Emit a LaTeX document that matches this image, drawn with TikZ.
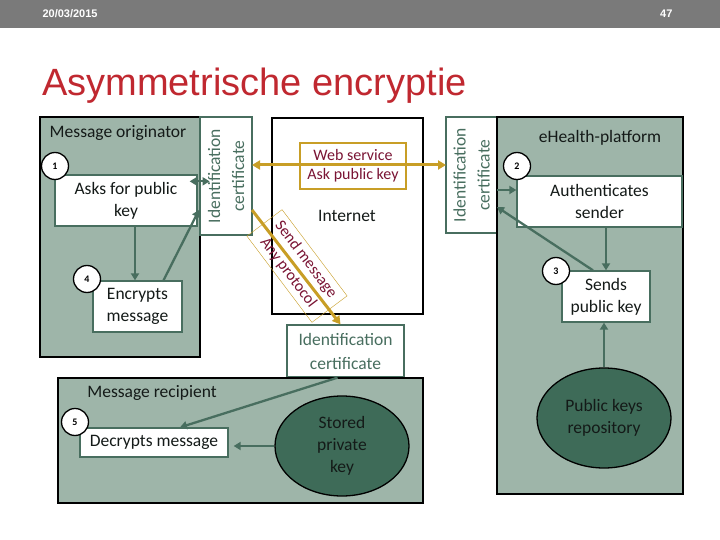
\documentclass[tikz,border=0pt]{standalone}
\usepackage{fontspec}
\setmainfont{Carlito}
\newfontfamily\slidefont{Liberation Sans}
\usetikzlibrary{arrows.meta, calc, shapes.geometric}
\definecolor{diagInk}{RGB}{20,26,24}
\definecolor{diagHeader}{RGB}{122,122,122}
\definecolor{diagTitle}{RGB}{192,40,48}
\definecolor{diagPanel}{RGB}{158,181,169}
\definecolor{diagEdge}{RGB}{72,110,95}
\definecolor{diagStore}{RGB}{62,107,88}
\definecolor{diagGold}{RGB}{200,158,38}
\definecolor{diagWine}{RGB}{122,20,52}
\tikzset{
  % grey-green area that holds one party
  panel/.style={draw=black, fill=diagPanel, line width=1.3pt, inner sep=0pt},
  lane/.style={font=\fontsize{17.5}{20}\selectfont, text=diagInk, inner sep=0pt},
  % white box with one step
  stepbox/.style={
    draw=diagEdge, fill=white, line width=1.3pt, inner sep=0pt,
    align=center, text=diagInk, font=\fontsize{17.5}{22}\selectfont
  },
  cert/.style={stepbox, text=diagEdge, font=\fontsize{17.5}{24}\selectfont},
  numdot/.style={circle, draw=black, fill=white, line width=1.3pt,
                 minimum size=27pt, inner sep=0pt, font=\fontsize{10}{10}\selectfont\bfseries},
  store/.style={ellipse, draw=black, fill=diagStore, line width=1.3pt,
                minimum width=134pt, minimum height=100pt, inner sep=0pt,
                align=center, text=diagInk, font=\fontsize{17.5}{22}\selectfont},
  % arrows
  flow/.style={-{Triangle[length=7pt,width=8pt]}, draw=diagEdge, line width=2.3pt},
  biflow/.style={{Triangle[length=7pt,width=8pt]}-{Triangle[length=7pt,width=8pt]},
                 draw=diagEdge, line width=2.3pt},
  goldflow/.style={-{Triangle[length=8pt,width=9pt]}, draw=diagGold, line width=3pt},
  goldbiflow/.style={{Triangle[length=8pt,width=9pt]}-{Triangle[length=8pt,width=9pt]},
                     draw=diagGold, line width=3pt},
  goldtag/.style={draw=diagGold, align=center, inner sep=0pt,
                  text=diagWine, font=\fontsize{16}{19}\selectfont},
}

\begin{document}
\begin{tikzpicture}[x=1pt, y=1pt]
\useasboundingbox (0,0) rectangle (720,-540);

% ===========================================================================
% SLIDE HEADER AND TITLE
% ===========================================================================
\fill[diagHeader] (0,0) rectangle (720,-28);
\node[font=\slidefont\fontsize{11}{11}\selectfont\bfseries, text=white, anchor=west]
      (date) at (39,-14) {20/03/2015};
\node[font=\slidefont\fontsize{11}{11}\selectfont\bfseries, text=white, anchor=east]
      (pageno) at (676,-14) {47};
\node[font=\slidefont\fontsize{38}{38}\selectfont, text=diagTitle, anchor=base west, inner sep=0pt]
      (title) at (42,-96) {Asymmetrische encryptie};

% ===========================================================================
% LEFT: message originator
% ===========================================================================
\node[panel, minimum width=160pt, minimum height=240pt] (originator) at (120,-237) {};
\node[lane] (origlabel) at (118,-133) {Message originator};

\node[stepbox, minimum width=142pt, minimum height=51pt] (asks) at (126,-200.5)
      {Asks for public\\key};
\node[stepbox, minimum width=89pt, minimum height=51pt] (encrypts) at (137.5,-306.5)
      {Encrypts\\message};

\node[numdot] (n1) at (55,-166) {1};
\node[numdot] (n4) at (87,-279) {4};

\node[cert, rotate=90, minimum width=118pt, minimum height=52pt] (certL) at (226,-176)
      {Identification\\certificate};

\draw[flow] ($(asks.south)+(9,0)$) -- ($(encrypts.north)+(-2.5,0)$);
\draw[biflow] ($(asks.north east)+(-8,-7)$) -- ($(asks.north east)+(12,-7)$);
\draw[flow] ($(encrypts.north)+(26,0)$) -- ($(certL.center)+(-27,-34)$);

% ===========================================================================
% CENTER: internet and the web service
% ===========================================================================
\node[draw=black, fill=white, line width=1.3pt, minimum width=151pt, minimum height=196pt]
      (internet) at (347.5,-216) {};
\node[lane] (netlabel) at (347,-216) {Internet};

\node[goldtag, fill=white, line width=1.3pt, minimum width=106pt, minimum height=46pt]
      (websvc) at (353,-166) {Web service\\Ask public key};

\node[cert, rotate=90, minimum width=116pt, minimum height=51pt] (certR) at (471.5,-175)
      {Identification\\certificate};

\draw[goldbiflow] ($(certL.center)+(26,11)$) -- ($(certR.center)+(-25.5,10)$);

\node[goldtag, line width=0.4pt, rotate=-53, minimum width=108pt, minimum height=44pt,
      font=\fontsize{16}{22}\selectfont]
      (sendtag) at (297,-266) {Send message\\Any protocol};

\node[cert, minimum width=117pt, minimum height=52pt] (certB) at (345.5,-351)
      {Identification\\certificate};

\draw[goldflow] ($(certL.center)+(26,-34)$) -- ($(certB.north)+(-5,0)$);

% ===========================================================================
% RIGHT: eHealth-platform
% ===========================================================================
\node[panel, minimum width=186pt, minimum height=377pt] (ehealth) at (590,-305.5) {};
\node[lane] (ehlabel) at (600,-138) {eHealth-platform};

\node[stepbox, minimum width=165pt, minimum height=51pt] (auth) at (599.5,-201.5)
      {Authenticates\\sender};
\node[stepbox, minimum width=88pt, minimum height=51pt] (sends) at (606,-296.5)
      {Sends\\public key};
\node[store] (keys) at (604,-418) {Public keys\\repository};

\node[numdot] (n2) at (517,-166) {2};
\node[numdot] (n3) at (556,-271) {3};

\draw[flow] ($(certR.center)+(25.5,-15)$) -- ($(auth.west)+(0,11.5)$);
\draw[flow] (sends.north |- auth.south) -- (sends.north);
\draw[flow] ($(sends.north)+(-13,0)$) -- ($(certR.center)+(25.5,-32)$);
\draw[flow] (keys.north) -- (keys.north |- sends.south);

% ===========================================================================
% BOTTOM: message recipient
% ===========================================================================
\node[panel, minimum width=365pt, minimum height=125pt] (recipient) at (240.5,-440.5) {};
\node[lane] (reclabel) at (152,-393) {Message recipient};

\node[stepbox, minimum width=148pt, minimum height=29pt] (decrypts) at (154,-442.5)
      {Decrypts message};
\node[store] (privkey) at (342,-446) {Stored\\private\\key};

\node[numdot] (n5) at (75,-422) {5};

\draw[flow, shorten >=5pt] (privkey.west) -- (decrypts.east |- privkey.west);
\draw[flow] ($(certB.south)+(-8,0)$) -- ($(decrypts.north)+(26,0)$);

\end{tikzpicture}
\end{document}
